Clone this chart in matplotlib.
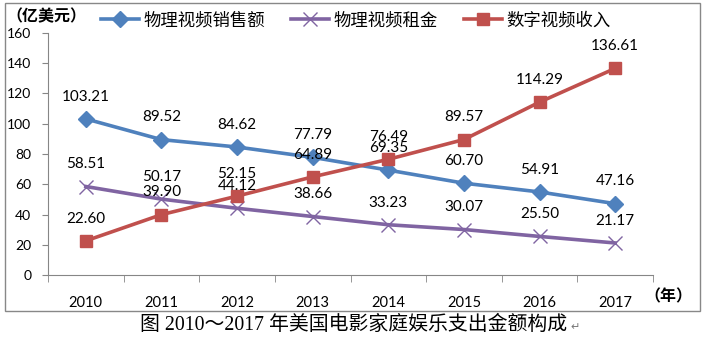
import matplotlib
matplotlib.use("Agg")
import matplotlib.pyplot as plt
from matplotlib.patches import Rectangle

plt.rcParams['font.family'] = ['Lato', 'Noto Sans CJK SC', 'DejaVu Sans']

# donnees
annees = ['2010', '2011', '2012', '2013', '2014', '2015', '2016', '2017']
ventes = [103.21, 89.52, 84.62, 77.79, 69.35, 60.70, 54.91, 47.16]
location = [58.51, 50.17, 44.12, 38.66, 33.23, 30.07, 25.50, 21.17]
numerique = [22.60, 39.90, 52.15, 64.89, 76.49, 89.57, 114.29, 136.61]
noms = ['物理视频销售额', '物理视频租金', '数字视频收入']
couleurs = ['#4F81BD', '#8064A2', '#C0504D']
yticks = [0, 20, 40, 60, 80, 100, 120, 140, 160]

fig = plt.figure(figsize=(7.02, 3.5), dpi=100)
ax = fig.add_axes([48/702, 1-275/350, 605/702, 242/350])

x = list(range(len(annees)))
ax.plot(x, ventes, color=couleurs[0], lw=2.6, marker='D', ms=8,
        mec=couleurs[0], mfc=couleurs[0], label=noms[0])
ax.plot(x, location, color=couleurs[1], lw=2.6, marker='x', ms=10,
        mew=1.0, mec=couleurs[1], label=noms[1])
ax.plot(x, numerique, color=couleurs[2], lw=2.6, marker='s', ms=8.5,
        mec=couleurs[2], mfc=couleurs[2], label=noms[2])

for serie in (ventes, location, numerique):
    for i, v in enumerate(serie):
        ax.annotate('%.2f' % v, (i, v), xytext=(0, 16), textcoords='offset points',
                    ha='center', va='center', fontsize=11, color='black')

ax.set_xlim(-0.5, 7.5)
ax.set_ylim(0, 160)
ax.set_yticks(yticks)
ax.tick_params(axis='y', length=4, color='#868686', labelsize=10, pad=8)
ax.set_xticks(x)
ax.set_xticklabels(annees)
ax.set_xticks([i - 0.5 for i in range(len(annees) + 1)], minor=True)
ax.tick_params(axis='x', which='major', length=0, labelsize=10.5, pad=15)
ax.tick_params(axis='x', which='minor', length=5, color='#868686')
for s in ('top', 'right'):
    ax.spines[s].set_visible(False)
for s in ('left', 'bottom'):
    ax.spines[s].set_color('#868686')

ax.legend(loc='center', bbox_to_anchor=(356/702, 1-20/350), bbox_transform=fig.transFigure,
          ncol=3, frameon=False, fontsize=12.5, handlelength=2.2, columnspacing=1.5,
          handletextpad=0.25)

fig.text(6/702, 1-17/350, '（亿美元）', fontsize=11.5, fontweight='bold',
         ha='left', va='center')
fig.text(668/702, 1-297/350, '（年）', fontsize=11.5, fontweight='bold',
         ha='center', va='center')
fig.text(140/702, 1-325/350, '图 2010～2017 年美国电影家庭娱乐支出金额构成',
         fontsize=14.3, ha='left', va='center',
         family=['Liberation Serif', 'Noto Sans CJK SC', 'DejaVu Sans'])
fig.text(570/702, 1-327/350, '↵', fontsize=8, color='#777777',
         ha='left', va='center', family=['DejaVu Sans'])

fig.patches.append(Rectangle((5/702, 1-311/350), 695/702, 308/350,
                             transform=fig.transFigure, fill=False,
                             edgecolor='#888888', lw=1.0))

fig.savefig('out.png', dpi=100)
